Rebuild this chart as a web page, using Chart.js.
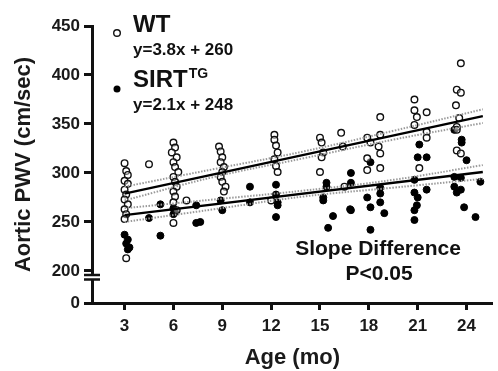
<!DOCTYPE html>
<html>
<head>
<meta charset="utf-8">
<script src="https://cdn.jsdelivr.net/npm/chart.js@4/dist/chart.umd.min.js"></script>
<style>
  body { margin: 0; background: #fff; }
  #wrap { width: 498px; height: 371px; position: relative; }
</style>
</head>
<body>
<div id="wrap"><canvas id="myChart"></canvas></div>
<script>
// data
const wtAge = [3.0, 3.1, 3.2, 3.0, 3.2, 3.0, 3.1, 3.0, 3.2, 3.0, 3.1, 3.0, 3.1,
    4.5,
    6.0, 6.1, 5.9, 6.2, 6.0, 6.1, 6.3, 6.0, 6.1, 6.2, 6.0, 6.1, 6.0, 6.2, 6.0,
    6.8,
    8.8, 8.9, 9.0, 8.9, 9.1, 9.0, 8.9, 9.0, 9.2, 9.1,
    12.2, 12.2, 12.3, 12.4, 12.2, 12.3, 12.4, 12.0,
    15.0, 15.1, 15.2, 15.1, 15.0,
    16.3, 16.4, 16.5,
    18.7, 18.7, 17.9, 18.1, 18.6, 18.7, 17.9, 18.7, 17.9,
    20.8, 20.8, 20.95, 21.55, 20.8, 21.55, 21.55, 21.1,
    23.65, 23.4, 23.65, 23.35, 23.55, 23.4, 23.4, 23.4, 23.65]
const wtPwv = [310, 302, 298, 292, 289, 283, 278, 273, 268, 263, 258, 253, 213,
    309,
    331, 326, 321, 316, 311, 306, 301, 296, 291, 286, 281, 276, 270, 262, 249,
    272,
    327, 322, 316, 311, 306, 301, 296, 291, 286, 281,
    339, 334, 328, 321, 314, 307, 301, 272,
    336, 331, 321, 316, 301,
    341, 327, 286,
    357, 339, 336, 331, 327, 320, 315, 305, 303,
    375, 364, 357, 362, 349, 342, 336, 305,
    412, 385, 382, 369, 356, 347, 344, 323, 320]

const tgAge = [3.0, 3.2, 3.1, 3.3, 3.2,
    4.5, 5.2, 5.2,
    6.0, 6.1, 6.0,
    7.4, 7.4, 7.65,
    8.9, 9.0,
    10.7, 10.7,
    12.3, 12.3, 12.4, 12.4, 12.3,
    15.4, 15.4, 15.2, 15.2, 15.8, 15.5,
    16.9, 16.9, 16.85, 16.9,
    18.1, 18.7, 18.7, 17.9, 18.7, 18.1, 18.95, 18.1,
    21.1, 21.0, 21.55, 20.8, 21.55, 20.8, 21.0, 20.95, 20.8, 20.8,
    23.25, 23.7, 23.7, 24.0, 23.25, 23.65, 24.85, 23.25, 23.65, 23.4, 23.85, 24.55]
const tgPwv = [237, 232, 228, 224, 222,
    254, 268, 236,
    264, 260, 258,
    267, 249, 250,
    272, 262,
    286, 270,
    288, 278, 270, 267, 255,
    290, 286, 275, 272, 256, 244,
    300, 290, 263, 262,
    311, 285, 279, 275, 270, 265, 259, 242,
    329, 316, 316, 293, 283, 280, 275, 267, 262, 252,
    344, 334, 331, 313, 296, 295, 291, 286, 283, 280, 265, 255]

// regression lines and 95% bands
const fitAge = [3, 25]
const wtFit = [279, 358]
const tgFit = [257, 301]
const ciAge = [3, 8.5, 14, 19.5, 25]
const wtUpper = [286, 304, 322, 343, 365]
const wtLower = [272, 296, 315, 334, 351]
const tgUpper = [264, 273, 282, 293, 308]
const tgLower = [250, 263, 276, 285, 294]

const xTicks = [3, 6, 9, 12, 15, 18, 21, 24]
const yTicks = [200, 250, 300, 350, 400, 450]
const yBottom = 167.3 // shown as "0" below the axis break

const pts = (xs, ys) => xs.map((x, i) => ({ x: x, y: ys[i] }))

const bold = size => ({ family: 'Liberation Sans, Arial, sans-serif', weight: 'bold', size: size })

const bandStyle = {
    type: 'line', showLine: true, pointRadius: 0, borderColor: '#9a9a9a',
    borderWidth: 2, borderDash: [1.5, 1.5], tension: 0.4, fill: false, order: 1
}

const data = {
    datasets: [
        { label: 'WT', data: pts(wtAge, wtPwv), pointStyle: 'circle', pointRadius: 3.3,
          borderColor: '#111', borderWidth: 1.4, backgroundColor: 'rgba(255,255,255,0.4)', order: 2 },
        { label: 'SIRT', data: pts(tgAge, tgPwv), pointStyle: 'circle', pointRadius: 3.5,
          borderColor: '#000', borderWidth: 1, backgroundColor: '#000', order: 2 },
        Object.assign({ data: pts(ciAge, wtUpper) }, bandStyle),
        Object.assign({ data: pts(ciAge, wtLower) }, bandStyle),
        Object.assign({ data: pts(ciAge, tgUpper) }, bandStyle),
        Object.assign({ data: pts(ciAge, tgLower) }, bandStyle),
        { type: 'line', data: pts(fitAge, wtFit), showLine: true, pointRadius: 0,
          borderColor: '#000', borderWidth: 2.4, order: 0 },
        { type: 'line', data: pts(fitAge, tgFit), showLine: true, pointRadius: 0,
          borderColor: '#000', borderWidth: 2.4, order: 0 }
    ]
}

// legend, annotation and the axis break
const extras = {
    id: 'extras',
    afterDraw(chart) {
        const ctx = chart.ctx
        const y = chart.scales.y
        ctx.save()
        // axis break
        const yb = y.getPixelForValue(200) + 4
        ctx.fillStyle = '#fff'
        ctx.fillRect(88, yb - 1, 8, 6)
        ctx.strokeStyle = '#111'
        ctx.lineWidth = 2.4
        ctx.beginPath()
        ctx.moveTo(84, yb); ctx.lineTo(100, yb)
        ctx.moveTo(84, yb + 4.5); ctx.lineTo(100, yb + 4.5)
        ctx.stroke()

        // legend markers
        ctx.lineWidth = 1.4
        ctx.beginPath(); ctx.arc(117, 33, 3.3, 0, Math.PI * 2); ctx.stroke()
        ctx.fillStyle = '#000'
        ctx.beginPath(); ctx.arc(117, 89, 3.5, 0, Math.PI * 2); ctx.fill()

        ctx.fillStyle = '#111'
        ctx.textAlign = 'left'
        ctx.textBaseline = 'alphabetic'
        ctx.font = 'bold 24px Liberation Sans, Arial, sans-serif'
        ctx.fillText('WT', 133, 32)
        ctx.fillText('SIRT', 133, 87)
        const w = ctx.measureText('SIRT').width
        ctx.font = 'bold 14px Liberation Sans, Arial, sans-serif'
        ctx.fillText('TG', 133 + w + 1, 78)
        ctx.font = 'bold 17px Liberation Sans, Arial, sans-serif'
        ctx.fillText('y=3.8x + 260', 133, 55)
        ctx.fillText('y=2.1x + 248', 133, 110)

        ctx.textAlign = 'center'
        ctx.font = 'bold 21px Liberation Sans, Arial, sans-serif'
        ctx.fillText('Slope Difference', 378, 255)
        ctx.fillText('P<0.05', 379, 280)
        ctx.restore()
    }
}

const config = {
    type: 'scatter',
    data,
    options: {
        responsive: true,
        maintainAspectRatio: false,
        animation: false,
        layout: { padding: { left: 0, right: 0, top: 26, bottom: 0 } },
        plugins: { legend: { display: false }, tooltip: { enabled: false } },
        scales: {
            x: {
                type: 'linear', min: 1, max: 25.6,
                afterBuildTicks: s => { s.ticks = xTicks.map(v => ({ value: v })) },
                afterFit: s => { s.height = 68 },
                grid: { drawOnChartArea: false, drawTicks: true, tickLength: 7, tickWidth: 3, color: '#111' },
                border: { display: true, width: 3, color: '#111' },
                ticks: { color: '#1a1a1a', font: bold(17), padding: 6, maxRotation: 0 },
                title: { display: true, text: 'Age (mo)', color: '#1a1a1a', font: bold(22), padding: { top: 0, bottom: 0 } }
            },
            y: {
                type: 'linear', min: yBottom, max: 450,
                afterBuildTicks: s => { s.ticks = [yBottom].concat(yTicks).map(v => ({ value: v })) },
                afterFit: s => { s.width = 92 },
                grid: { drawOnChartArea: false, drawTicks: true, tickLength: 8, tickWidth: 3, color: '#111' },
                border: { display: true, width: 3, color: '#111' },
                ticks: { color: '#1a1a1a', font: bold(17), padding: 4, callback: v => v === yBottom ? '0' : v },
                title: { display: true, text: 'Aortic PWV (cm/sec)', color: '#1a1a1a', font: bold(22), padding: { top: 11, bottom: 0 } }
            }
        }
    },
    plugins: [extras]
}

const myChart = new Chart(document.getElementById('myChart'), config)
</script>
</body>
</html>
